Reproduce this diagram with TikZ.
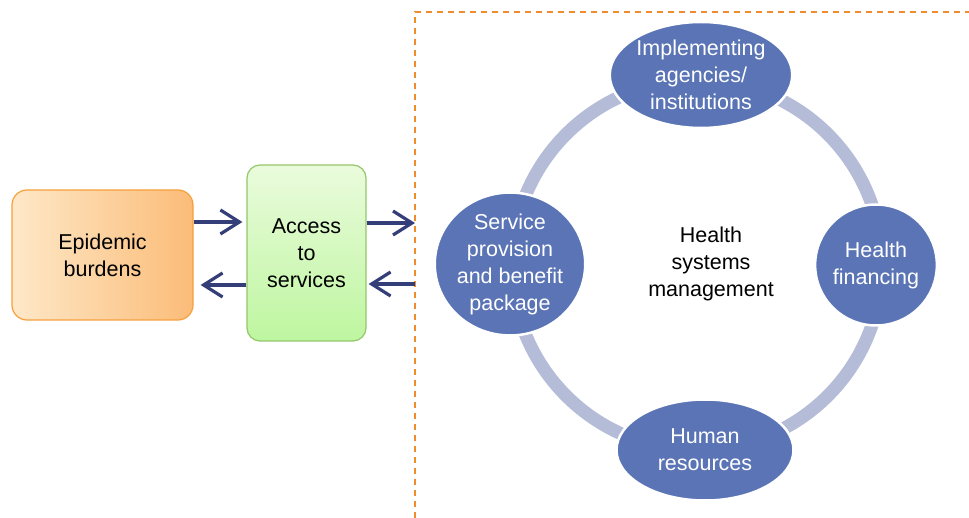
\documentclass[tikz,border=0pt]{standalone}
\usepackage{fontspec}
\setmainfont{Liberation Sans}
\usetikzlibrary{arrows.meta,shapes.geometric,calc}
\definecolor{navy}{RGB}{52,62,120}
\definecolor{ringc}{RGB}{180,188,215}
\definecolor{ellc}{RGB}{90,116,181}
\definecolor{dashc}{RGB}{240,140,45}
\definecolor{epiL}{RGB}{254,232,200}
\definecolor{epiR}{RGB}{251,188,120}
\definecolor{epiB}{RGB}{246,160,60}
\definecolor{accT}{RGB}{234,251,220}
\definecolor{accB}{RGB}{190,246,160}
\definecolor{accD}{RGB}{148,198,106}
\tikzset{
  txt/.style={font=\fontsize{21.5}{27}\selectfont, align=center},
  blob/.style={ellipse, draw=white, line width=2.5pt, fill=ellc, text=white, inner sep=0pt, txt},
  arr/.style={draw=navy, line width=3.2pt, -{Straight Barb[length=19pt,width=24pt]}},
  boxdash/.style={draw=dashc, line width=1.3pt, dash pattern=on 6pt off 5pt},
}
\begin{document}
\begin{tikzpicture}[x=1pt,y=-1pt]
\useasboundingbox (0,0) rectangle (969,518);
% dashed frame
\coordinate (D) at (415,12);
\coordinate (DR) at (969,12);
\coordinate (DB) at (415,518);
\draw[boxdash] (DB) -- (D) -- (DR);
% boxes
\node[draw=epiB, line width=1.2pt, rounded corners=15pt, left color=epiL, right color=epiR,
      minimum width=181pt, minimum height=130pt, txt] (E) at (102.5,255) {Epidemic\\burdens};
\node[draw=accD, line width=1.2pt, rounded corners=13pt, top color=accT, bottom color=accB,
      minimum width=119pt, minimum height=176pt, txt] (A) at (306.5,253) {Access\\to\\services};
% arrows
\coordinate (a1) at (0,222);
\coordinate (a2) at (0,285);
\coordinate (a3) at (0,223);
\coordinate (a4) at (0,284);
\draw[arr] (E.east |- a1) -- ([xshift=-4pt]A.west |- a1);
\draw[arr] (A.west |- a2) -- ([xshift=7pt]E.east |- a2);
\draw[arr] (A.east |- a3) -- (D |- a3);
\draw[arr] (D |- a4) -- ([xshift=2pt]A.east |- a4);
% ring
\coordinate (C) at (697,265);
\draw[ringc, line width=13pt] (C) circle[radius=185];
% ellipses
\node[blob, minimum width=178pt, minimum height=106pt] (T) at (701,75) {Implementing\\agencies/\\institutions};
\node[blob, minimum width=140pt, minimum height=122pt] (L) at (510,264) {Service\\provision\\and benefit\\package};
\node[blob, minimum width=113pt, minimum height=121pt] (R) at (876,265) {Health\\financing};
\node[blob, minimum width=177pt, minimum height=101pt] (B) at (705,450) {Human\\resources};
\node[txt] (H) at (711,264) {Health\\systems\\management};
\end{tikzpicture}
\end{document}
